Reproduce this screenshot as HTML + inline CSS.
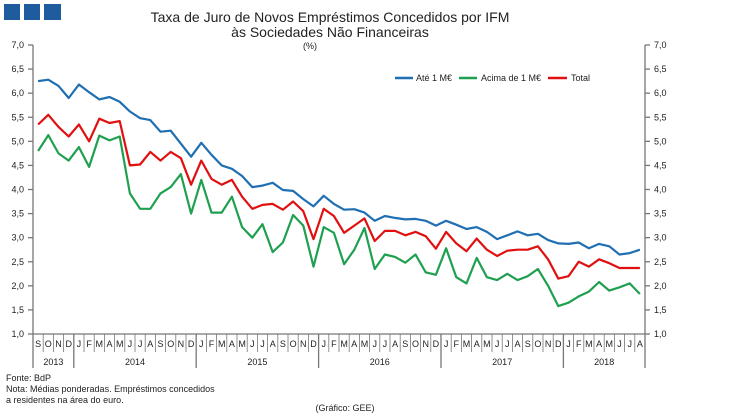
<!DOCTYPE html>
<html><head><meta charset="utf-8"><style>
html,body{margin:0;padding:0;background:#fff;width:750px;height:416px;overflow:hidden}
text{font-family:"Liberation Sans",Arial,sans-serif;fill:#222}
</style></head><body>
<svg id="s" width="750" height="416" xmlns="http://www.w3.org/2000/svg">
<rect x="4" y="4" width="16" height="16" fill="#1f5c9e"/>
<rect x="24" y="4" width="16" height="16" fill="#1f5c9e"/>
<rect x="44" y="4" width="17" height="16" fill="#1f5c9e"/>
<text x="330" y="22" font-size="14" text-anchor="middle">Taxa de Juro de Novos Empréstimos  Concedidos por IFM</text>
<text x="330" y="37" font-size="14" text-anchor="middle">às Sociedades Não Financeiras</text>
<text x="310" y="49" font-size="9" text-anchor="middle">(%)</text>
<line x1="395" y1="78" x2="413" y2="78" stroke="#1f6fb2" stroke-width="2.5"/>
<text x="416" y="81" font-size="9">Até 1 M€</text>
<line x1="459" y1="78" x2="477" y2="78" stroke="#1fa050" stroke-width="2.5"/>
<text x="481" y="81" font-size="9">Acima de 1 M€</text>
<line x1="548" y1="78" x2="567" y2="78" stroke="#e01010" stroke-width="2.5"/>
<text x="571" y="81" font-size="9">Total</text>
<g id="ax" stroke="#777" stroke-width="1.3"></g>
<g id="lbl" font-size="9"></g>
<text x="6" y="381" font-size="9">Fonte: BdP</text>
<text x="6" y="392" font-size="9">Nota: Médias ponderadas.  Empréstimos concedidos</text>
<text x="6" y="403" font-size="9">a residentes na área do euro.</text>
<text x="345" y="411" font-size="9" text-anchor="middle">(Gráfico: GEE)</text>
<g id="ser" fill="none" stroke-width="2.2" stroke-linejoin="round"></g>
</svg>
<script>
var NS="http://www.w3.org/2000/svg";
function el(p,t,a,txt){var e=document.createElementNS(NS,t);for(var k in a)e.setAttribute(k,a[k]);if(txt!=null)e.textContent=txt;document.getElementById(p).appendChild(e);return e;}
var X0=33,X1=645,YT=45,YB=334,N=60,dx=(X1-X0)/N;
function Y(v){return YT+(7-v)*(YB-YT)/6;}
el('ax','line',{x1:X0,y1:YT,x2:X0,y2:368});
el('ax','line',{x1:X1,y1:YT,x2:X1,y2:368});
el('ax','line',{x1:X0,y1:YB,x2:X1,y2:YB});
for(var v=1;v<=7.001;v+=0.5){var y=Y(v);
 el('ax','line',{x1:X0-5,y1:y,x2:X0,y2:y});el('ax','line',{x1:X1,y1:y,x2:X1+5,y2:y});
 var s=v.toFixed(1).replace('.',',');
 el('lbl','text',{x:X0-9,y:y+3,'text-anchor':'end'},s);el('lbl','text',{x:X1+9,y:y+3},s);}
var m="SONDJFMAMJJASONDJFMAMJJASONDJFMAMJJASONDJFMAMJJASONDJFMAMJJA";
for(var i=0;i<N;i++){var x=X0+dx*i;
 el('lbl','text',{x:x+dx/2,y:347,'text-anchor':'middle'},m[i]);
 if(i>0){var yr=(m[i]=='J'&&m[i-1]=='D');el('ax','line',{x1:x,y1:YB,x2:x,y2:yr?368:352,'stroke-width':yr?1.3:0.8});}}
var yrs=[[0,4,'2013'],[4,16,'2014'],[16,28,'2015'],[28,40,'2016'],[40,52,'2017'],[52,60,'2018']];
yrs.forEach(function(a){el('lbl','text',{x:X0+dx*(a[0]+a[1])/2,y:365,'text-anchor':'middle'},a[2]);});
var B=[6.25,6.28,6.15,5.9,6.18,6.02,5.87,5.92,5.82,5.62,5.48,5.44,5.2,5.22,4.95,4.68,4.97,4.72,4.5,4.43,4.28,4.05,4.08,4.14,3.99,3.97,3.8,3.65,3.87,3.7,3.58,3.59,3.52,3.35,3.45,3.41,3.38,3.39,3.35,3.25,3.35,3.27,3.18,3.22,3.12,2.97,3.05,3.13,3.05,3.08,2.95,2.88,2.87,2.9,2.78,2.87,2.82,2.65,2.68,2.75];
var R=[5.35,5.55,5.3,5.1,5.35,5.0,5.47,5.38,5.42,4.5,4.52,4.78,4.6,4.78,4.65,4.1,4.6,4.22,4.1,4.2,3.85,3.6,3.68,3.7,3.58,3.75,3.55,2.97,3.6,3.45,3.1,3.25,3.4,2.93,3.14,3.14,3.05,3.12,3.03,2.77,3.12,2.88,2.72,2.98,2.75,2.62,2.73,2.75,2.75,2.82,2.55,2.15,2.2,2.5,2.4,2.55,2.47,2.37,2.37,2.37];
var G=[4.8,5.13,4.75,4.6,4.88,4.47,5.12,5.02,5.1,3.92,3.6,3.6,3.92,4.05,4.32,3.5,4.2,3.52,3.52,3.85,3.22,3.0,3.28,2.7,2.9,3.47,3.25,2.4,3.22,3.1,2.45,2.75,3.2,2.35,2.65,2.6,2.48,2.65,2.28,2.23,2.78,2.18,2.05,2.58,2.18,2.12,2.25,2.12,2.2,2.35,2.0,1.58,1.65,1.78,1.88,2.08,1.9,1.97,2.05,1.83];
function pl(d,c){var p=d.map(function(v,i){return (X0+dx*(i+0.5)).toFixed(1)+','+Y(v).toFixed(1);}).join(' ');el('ser','polyline',{points:p,stroke:c});}
pl(G,'#1fa050');pl(B,'#1f6fb2');pl(R,'#e01010');
</script>
</body></html>
